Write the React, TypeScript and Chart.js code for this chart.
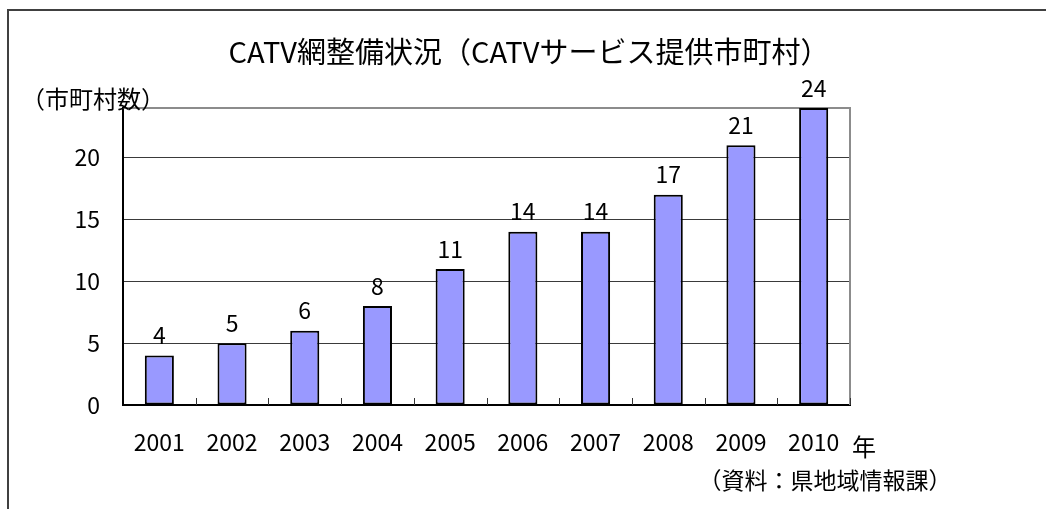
import React, { useEffect, useRef } from "react";
import { Chart, registerables } from "chart.js";

Chart.register(...registerables);

const years = ["2001", "2002", "2003", "2004", "2005", "2006", "2007", "2008", "2009", "2010"];
const municipalities = [4, 5, 6, 8, 11, 14, 14, 17, 21, 24];
const yTickValues = [0, 5, 10, 15, 20];
const yMin = 0;
const yMax = 24;

const titleText = "CATV網整備状況（CATVサービス提供市町村）";
const yUnitText = "（市町村数）";
const xUnitText = "年";
const sourceText = "（資料：県地域情報課）";

const FONT = "'Noto Sans CJK JP', 'Noto Sans', sans-serif";

const decorPlugin = {
  id: "decor",
  beforeDatasetsDraw(chart: any) {
    const { ctx, chartArea } = chart;
    ctx.save();
    ctx.strokeStyle = "#8c8c8c";
    ctx.lineWidth = 2;
    ctx.beginPath();
    ctx.moveTo(chartArea.left, chartArea.top);
    ctx.lineTo(chartArea.right, chartArea.top);
    ctx.lineTo(chartArea.right, chartArea.bottom);
    ctx.stroke();
    ctx.restore();
  },
  afterDatasetsDraw(chart: any) {
    const { ctx, chartArea } = chart;
    const xScale = chart.scales.x;
    const n = chart.data.labels.length;
    ctx.save();
    ctx.strokeStyle = "#333";
    ctx.lineWidth = 1;
    for (let i = 1; i <= n; i++) {
      const x = Math.round(xScale.left + (i * (xScale.right - xScale.left)) / n) + 0.5;
      ctx.beginPath();
      ctx.moveTo(x, chartArea.bottom);
      ctx.lineTo(x, chartArea.bottom - 7);
      ctx.stroke();
    }
    const meta = chart.getDatasetMeta(0);
    ctx.fillStyle = "#000";
    ctx.font = `23px ${FONT}`;
    ctx.textAlign = "center";
    ctx.textBaseline = "middle";
    meta.data.forEach((bar: any, i: number) => {
      const v = chart.data.datasets[0].data[i];
      ctx.fillText(String(v), bar.x, bar.y - 20);
    });
    ctx.restore();
  },
  afterDraw(chart: any) {
    const { ctx } = chart;
    ctx.save();
    ctx.fillStyle = "#000";
    ctx.textBaseline = "middle";
    ctx.textAlign = "center";
    ctx.font = `29px ${FONT}`;
    ctx.fillText(titleText, 529, 52);
    ctx.font = `24px ${FONT}`;
    ctx.fillText(yUnitText, 93, 99);
    ctx.font = `24px ${FONT}`;
    ctx.fillText(xUnitText, 864, 447);
    ctx.font = `23px ${FONT}`;
    ctx.fillText(sourceText, 825, 480);
    ctx.restore();
  },
};

export default function App() {
  const canvasRef = useRef<HTMLCanvasElement | null>(null);

  useEffect(() => {
    if (!canvasRef.current) return;
    const chart = new Chart(canvasRef.current, {
      type: "bar",
      data: {
        labels: years,
        datasets: [
          {
            data: municipalities,
            backgroundColor: "#9999ff",
            borderColor: "#000",
            borderWidth: 2,
            borderSkipped: false,
            barPercentage: 0.4,
            categoryPercentage: 1,
          },
        ],
      },
      options: {
        animation: false,
        responsive: false,
        devicePixelRatio: 1,
        layout: { padding: { left: 63, top: 108, right: 196, bottom: 54 } },
        plugins: {
          legend: { display: false },
          tooltip: { enabled: false },
          title: { display: false },
        },
        scales: {
          x: {
            type: "category",
            grid: { display: true, drawOnChartArea: false, drawTicks: false, color: "rgba(0,0,0,0)" },
            border: { display: true, color: "#000", width: 2 },
            ticks: { color: "#000", font: { size: 23, family: FONT }, padding: 23, maxRotation: 0 },
            afterFit: (scale: any) => {
              scale.height = 50;
            },
          },
          y: {
            min: yMin,
            max: yMax,
            grid: { color: "#3a3a3a", lineWidth: 1, drawTicks: false },
            border: { display: true, color: "#000", width: 2 },
            ticks: { color: "#000", font: { size: 23, family: FONT }, padding: 23 },
            afterBuildTicks: (scale: any) => {
              scale.ticks = yTickValues.map((v) => ({ value: v }));
            },
            afterFit: (scale: any) => {
              scale.width = 60;
            },
          },
        },
      },
      plugins: [decorPlugin],
    });
    return () => chart.destroy();
  }, []);

  return (
    <div style={{ position: "fixed", left: 0, top: 0, width: 1046, height: 509, background: "#fff", overflow: "hidden" }}>
      <div
        style={{
          position: "absolute",
          left: 7,
          top: 9,
          width: 1100,
          height: 600,
          borderLeft: "2px solid #404040",
          borderTop: "2px solid #404040",
        }}
      />
      <canvas ref={canvasRef} width={1046} height={509} style={{ position: "absolute", left: 0, top: 0 }} />
    </div>
  );
}
